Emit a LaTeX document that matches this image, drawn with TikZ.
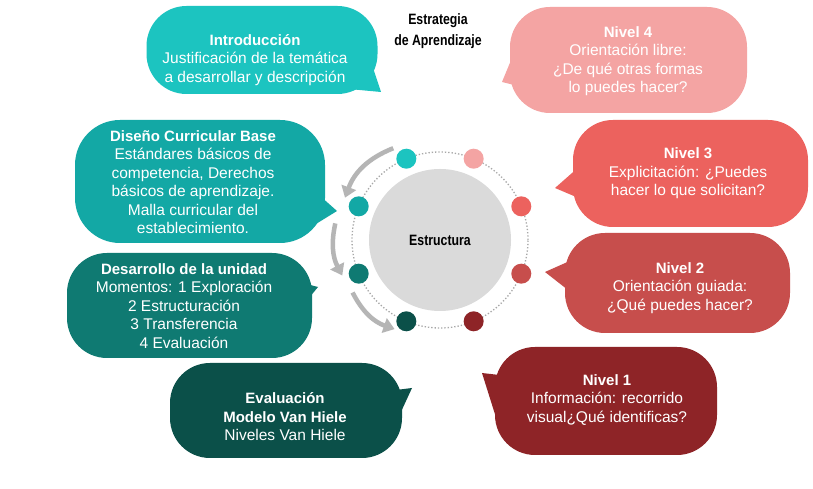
\documentclass[tikz,border=0pt]{standalone}
\usepackage{fontspec}
\setmainfont{Liberation Sans}
\newfontfamily\condfont[FakeStretch=0.82]{Liberation Sans}
\usetikzlibrary{arrows.meta,calc}
\definecolor{tealA}{HTML}{1CC4C0}
\definecolor{tealB}{HTML}{13A8A5}
\definecolor{tealC}{HTML}{0F7A72}
\definecolor{greenD}{HTML}{0B5049}
\definecolor{pinkA}{HTML}{F4A4A3}
\definecolor{redB}{HTML}{EC625E}
\definecolor{redC}{HTML}{C74E4C}
\definecolor{redD}{HTML}{8E2427}
\definecolor{coreG}{HTML}{DADADA}
\definecolor{arrG}{HTML}{B5B5B5}
\definecolor{ringG}{HTML}{A8A8A8}
\newcommand{\hd}[1]{{\fontsize{15}{18.5}\selectfont\bfseries #1}}
\begin{document}
\begin{tikzpicture}[x=1pt,y=1pt,
  bubble/.style={rounded corners=40pt, inner sep=0pt},
  btext/.style={align=center, text=white, inner sep=0pt,
    font=\fontsize{15.5}{18.5}\selectfont},
  dot/.style={circle, minimum size=20pt, inner sep=0pt},
  garrow/.style={draw=arrG, line width=4.5pt, -{Triangle[length=11pt,width=15pt]}},
  ring/.style={draw=ringG, line width=1.3pt, dotted}
]
\useasboundingbox (0,0) rectangle (813,489);
\fill[white] (0,0) rectangle (813,489);

% title
\node[font=\condfont\bfseries\fontsize{15}{21}\selectfont, align=center] (title) at (438,458) {Estrategia\\de Aprendizaje};

% tails
\coordinate (t1) at (381,397);
\fill[tealA] (t1) -- (368,436) -- (338,401) -- cycle;
\coordinate (t2) at (337,278);
\fill[tealB] (t2) -- (310,302) -- (303,257) -- cycle;
\coordinate (t3) at (318,202);
\fill[tealC] (t3) -- (295,208) -- (295,174) -- cycle;
\coordinate (t4) at (412,101);
\fill[greenD] (t4) -- (388,98) -- (394,62) -- cycle;
\coordinate (t5) at (502,407);
\fill[pinkA] (t5) -- (514,436) -- (530,400) -- cycle;
\coordinate (t6) at (555,301);
\fill[redB] (t6) -- (580,323) -- (588,287) -- cycle;
\coordinate (t7) at (545,217);
\fill[redC] (t7) -- (572,229) -- (582,188) -- cycle;
\coordinate (t8) at (482,116);
\fill[redD] (t8) -- (517,112) -- (499,62) -- cycle;

% bubbles
\node[bubble, fill=tealA, minimum width=231pt, minimum height=88pt] (intro) at (262,439) {};
\node[bubble, fill=tealB, minimum width=250pt, minimum height=123pt, rounded corners=45pt] (diseno) at (200,307.5) {};
\node[bubble, fill=tealC, minimum width=245pt, minimum height=105pt] (desarrollo) at (189.5,183.5) {};
\node[bubble, fill=greenD, minimum width=232pt, minimum height=95pt] (evaluacion) at (286,78.5) {};
\node[bubble, fill=pinkA, minimum width=237pt, minimum height=106pt] (nivel4) at (628.5,429) {};
\node[bubble, fill=redB, minimum width=235pt, minimum height=107pt] (nivel3) at (690.5,315.5) {};
\node[bubble, fill=redC, minimum width=225pt, minimum height=100pt] (nivel2) at (677.5,206) {};
\node[bubble, fill=redD, minimum width=222pt, minimum height=108pt] (nivel1) at (606,88) {};

% bubble texts
\node[btext] (introT) at (255,429)
  {\hd{Introducción}\\Justificación de la temática\\a desarrollar y descripción};
\node[btext] (disenoT) at (193,307)
  {\hd{Diseño Curricular Base}\\Estándares básicos de\\competencia, Derechos\\básicos de aprendizaje.\\Malla curricular del\\establecimiento.};
\node[btext] (desarrolloT) at (184,183)
  {\hd{Desarrollo de la unidad}\\Momentos: 1 Exploración\\2 Estructuración\\3 Transferencia\\4 Evaluación};
\node[btext] (evaluacionT) at (285,72)
  {\hd{Evaluación}\\\hd{Modelo Van Hiele}\\Niveles Van Hiele};
\node[btext] (nivel4T) at (628,428)
  {\hd{Nivel 4}\\Orientación libre:\\¿De qué otras formas\\lo puedes hacer?};
\node[btext] (nivel3T) at (688,315.5)
  {\hd{Nivel 3}\\Explicitación: ¿Puedes\\hacer lo que solicitan?};
\node[btext] (nivel2T) at (680,201)
  {\hd{Nivel 2}\\Orientación guiada:\\¿Qué puedes hacer?};
\node[btext] (nivel1T) at (607,89)
  {\hd{Nivel 1}\\Información: recorrido\\visual¿Qué identificas?};

% core
\coordinate (C) at (440,249);
\draw[ring] (C) circle[radius=88];
\node[circle, fill=coreG, minimum size=142pt, inner sep=0pt, font=\condfont\bfseries\fontsize{15}{18}\selectfont] (core) at (C) {Estructura};

\node[dot, fill=tealA] (d1) at ($(C)+(112.5:88)$) {};
\node[dot, fill=pinkA] (d2) at ($(C)+(67.5:88)$) {};
\node[dot, fill=redB] (d3) at ($(C)+(22.5:88)$) {};
\node[dot, fill=redC] (d4) at ($(C)+(-22.5:88)$) {};
\node[dot, fill=redD] (d5) at ($(C)+(-67.5:88)$) {};
\node[dot, fill=greenD] (d6) at ($(C)+(-112.5:88)$) {};
\node[dot, fill=tealC] (d7) at ($(C)+(-157.5:88)$) {};
\node[dot, fill=tealB] (d8) at ($(C)+(157.5:88)$) {};

% arrows
\coordinate (a1s) at ($(C)+(117:103)$);
\coordinate (a1e) at ($(C)+(156:104)$);
\coordinate (a2s) at ($(C)+(171:106)$);
\coordinate (a2e) at ($(C)+(200:104)$);
\coordinate (a3s) at ($(C)+(211:102)$);
\coordinate (a3e) at ($(C)+(243:100)$);
\draw[garrow] (a1s) to[bend right=24] (a1e);
\draw[garrow] (a2s) to[bend right=20] (a2e);
\draw[garrow] (a3s) to[bend right=22] (a3e);
\end{tikzpicture}
\end{document}
